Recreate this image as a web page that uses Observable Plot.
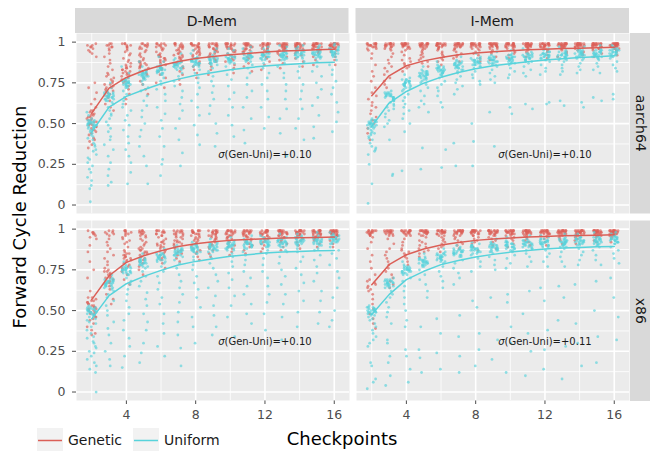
<!DOCTYPE html>
<html><head><meta charset="utf-8">
<script src="https://cdn.jsdelivr.net/npm/d3@7"></script>
<script src="https://cdn.jsdelivr.net/npm/@observablehq/plot@0.6"></script>
<style>
body{margin:0;background:#fff;font-family:"DejaVu Sans",sans-serif;}
#wrap{position:relative;width:650px;height:451px;overflow:hidden;background:#fff;}
#wrap svg{display:block;}
.lab{position:absolute;white-space:nowrap;line-height:1;}
</style></head><body><div id="wrap"></div>
<script>
// ---------- data ----------
const checkpoints = [2,3,4,5,6,7,8,9,10,11,12,13,14,15,16];
const memTypes = ["D-Mem","I-Mem"];
const archs = ["aarch64","x86"];
const strategies = ["Genetic","Uniform"];
const sigmaValues = ["+0.10","+0.10","+0.10","+0.11"]; // D-Mem/aarch64, I-Mem/aarch64, D-Mem/x86, I-Mem/x86
const yTicks = [0,0.25,0.5,0.75,1];
const yTickLabels = ["0","0.25","0.50","0.75","1"];
const xTicks = [4,8,12,16];

// per-checkpoint mean lines
const dmemAarch64GeneticMean = [0.564,0.718,0.783,0.826,0.857,0.881,0.900,0.912,0.922,0.930,0.939,0.945,0.949,0.953,0.957];
const dmemAarch64UniformMean = [0.448,0.601,0.667,0.708,0.744,0.773,0.797,0.814,0.830,0.843,0.853,0.861,0.867,0.873,0.877];
const imemAarch64GeneticMean = [0.671,0.793,0.855,0.885,0.906,0.922,0.933,0.941,0.947,0.953,0.957,0.961,0.963,0.965,0.969];
const imemAarch64UniformMean = [0.483,0.626,0.697,0.748,0.785,0.814,0.836,0.855,0.867,0.879,0.890,0.898,0.906,0.910,0.916];
const dmemX86GeneticMean = [0.567,0.714,0.796,0.837,0.867,0.894,0.910,0.922,0.931,0.937,0.941,0.945,0.947,0.949,0.951];
const dmemX86UniformMean = [0.449,0.592,0.665,0.710,0.747,0.780,0.802,0.818,0.833,0.843,0.853,0.859,0.863,0.867,0.869];
const imemX86GeneticMean = [0.659,0.782,0.843,0.878,0.902,0.918,0.931,0.939,0.945,0.951,0.955,0.959,0.961,0.963,0.965];
const imemX86UniformMean = [0.476,0.598,0.690,0.741,0.782,0.808,0.829,0.845,0.859,0.869,0.878,0.884,0.888,0.892,0.894];

// individual observations in hundredths ("v*n" = n observations at v), one string per checkpoint
const dmemAarch64Genetic = [
"99 98*2 97*2 96 95 94 93 91 75 72 69 65 62 60 58*2 57 56*2 55*2 54*2 53*2 52*2 51*2 50*2 49*2 48*2 47 46*2 45 44 43 41 40 39 37 35",
"99*2 98*2 97*2 96 95 93 91 89 87 85 83 81 80 79 78 77 76 75 74*2 73 72*2 71 70*2 69 68 67 66 64 62 60 58",
"99*3 98*2 97*2 96 95 94 93 92 90 89 88 87 86 85*2 84*2 83*2 82*2 81*2 80*2 79 78 77 76 75 73 71 68 65 62",
"99*3 98*3 97*2 96*2 95 94 93 92 91 90 89 88*2 87*2 86*2 85*2 84*2 83 82 81 80 78 76 74 71 68",
"99*4 98*3 97*2 96*2 95 94 93 92*2 91*2 90*2 89*2 88*2 87 86 85 84 83 82 80 78 75 72",
"99*4 98*3 97*3 96*2 95*2 94 93*2 92*2 91*2 90*2 89 88 87 86 85 84 82 80 77 74",
"99*5 98*4 97*3 96*2 95*2 94*2 93*2 92*2 91 90 89 88 87 86 85 83 81 78",
"99*5 98*4 97*3 96*3 95*2 94*2 93*2 92 91 90 89 88 87 85 83 80",
"99*6 98*4 97*3 96*3 95*2 94*2 93 92 91 90 89 88 86 84 81",
"99*6 98*5 97*3 96*3 95*2 94*2 93 92 91 90 89 87 85 82",
"99*7 98*5 97*3 96*3 95*2 94 93 92 91 90 88 86 83",
"99*7 98*5 97*4 96*3 95*2 94 93 92 91 89 87 84",
"99*8 98*5 97*4 96*3 95 94 93 92 90 88 85",
"99*8 98*5 97*4 96*3 95*2 94 93 91 89 86",
"99*8 98*6 97*4 96*3 95 94 93 91 89 86"];
const dmemAarch64Uniform = [
"53 52*3 51*4 50*5 49*4 48*3 47*2 46 45 44 43 42 41 40 38 37 36 34 33 31 29 28 26 24 22 20 17 15 12 10 02 55 57",
"70 69*3 68*4 67*5 66*4 65*3 64*2 75 72 63 62 60 58 56 55 53 51 49 47 45 42 40 37 34 30 26 22 18 14 12",
"78 77*3 76*4 75*5 74*4 73*3 72*2 85 81 70 68 66 64 62 60 58 55 52 49 46 42 38 34 30 26 20 13",
"83 82*3 81*4 80*5 79*4 78*3 77*2 88 85 76 74 72 70 67 64 61 58 54 50 46 42 36 30 24 13",
"86 85*3 84*4 83*5 82*4 81*3 80*2 91 88 78 76 74 71 68 64 60 56 52 47 42 36 28 25 18",
"89 88*3 87*4 86*5 85*4 84*3 83*2 93 90 81 79 76 73 70 66 62 58 53 47 40 32 24",
"91 90*3 89*4 88*5 87*4 86*3 85*2 95 93 83 81 78 75 72 68 64 60 55 49 43 37",
"92 91*3 90*4 89*5 88*4 87*3 86*2 96 94 84 82 79 76 73 69 65 61 56 50 44 36",
"93 92*3 91*4 90*5 89*4 88*3 87*2 96 95 85 83 80 77 73 69 65 60 55 49 42",
"94 93*3 92*4 91*5 90*4 89*3 88*2 97 96 86 84 81 78 74 70 66 60 53 46 38",
"95 94*3 93*4 92*5 91*4 90*3 89*2 97 96 87 84 81 78 74 70 65 60 54 47",
"95 94*3 93*4 92*5 91*4 90*3 89*2 98 97 87 85 81 78 74 70 65 59 53 44 30",
"96 95*3 94*4 93*5 92*4 91*3 90*2 98 97 88 85 82 78 74 70 65 59 53 47 40",
"96 95*3 94*4 93*5 92*4 91*3 90*2 98 97 88 85 82 79 75 71 66 61 55 48 41",
"97 96*3 95*4 94*5 93*4 92*3 91*2 99 98 89 86 83 80 76 72 68 63 57 51 45"];
const imemAarch64Genetic = [
"99*6 98*5 97*3 96*2 95 93 90 86 82 79 76 72 69 67 65 63 61 60 58 56 54 52 50 47 44 40",
"99*7 98*5 97*3 96*2 95 93 91 89 87 85 84 82 80 78 76 74 72",
"99*8 98*5 97*3 96*2 95 94 92 90 89 88 87 86 85 84 82",
"99*8 98*6 97*3 96*2 95 94 93 92 91 90 89 88 87 85",
"99*8 98*6 97*3 96*2 95 94 93 92 91 90 89 88 86",
"99*9 98*6 97*3 96*2 95 94 93 92 91 90 88",
"99*9 98*6 97*3 96*2 95 94 93 92 90 88",
"99*9 98*6 97*4 96*2 95 94 93 91 89",
"99*9 98*6 97*4 96*2 95 94 93 92 90",
"99*9 98*7 97*4 96*2 95 94 93 91",
"99*9 98*7 97*4 96*2 95 94 92 90",
"99*10 98*7 97*4 96*2 95 94 93 91",
"99*10 98*7 97*4 96*2 95 94 93 92",
"99*10 98*7 97*4 96*3 95 93 91",
"99*10 98*7 97*4 96*3 95 94 92"];
const imemAarch64Uniform = [
"53 52*3 51*4 50*5 49*4 48*3 47*2 46 45 44*2 43 42 41 40 38 36 35 34 33 31 25 13 01",
"70 69*3 68*4 67*5 66*4 65*3 64*2 63 62 61 60 59 58 56 54 52 50 48 40 19 18",
"78 77*3 76*4 75*5 74*4 73*3 72*2 80 71 70 68 66 64 62 60 58 56 53 50 45 21",
"83 82*3 81*4 80*5 79*4 78*3 77*2 85 76 75 74 72 70 67 64 62 60 57 35 22",
"86 85*3 84*4 83*5 82*4 81*3 80*2 88 79 78 76 74 72 70 67 63 60 34 23",
"89 88*3 87*4 86*5 85*4 84*3 83*2 91 82 81 79 77 75 73 71 68 38 24",
"91 90*3 89*4 88*5 87*4 86*3 85*2 93 84 82 80 78 76 74 50 39 24",
"92 91*3 90*4 89*5 88*4 87*3 86*2 94 85 83 81 79 77 75 57 36",
"93 92*3 91*4 90*5 89*4 88*3 87*2 95 86 84 82 80 78 60 56",
"94 93*3 92*4 91*5 90*4 89*3 88*2 96 87 85 83 81 79 62 59",
"95 94*3 93*4 92*5 91*4 90*3 89*2 96 88 86 84 82 80 63 62",
"95 94*3 93*4 92*5 91*4 90*3 89*2 97 88 86 84 82 80 64 61",
"96 95*3 94*4 93*5 92*4 91*3 90*2 97 89 87 85 83 81 63 60",
"96 95*3 94*4 93*5 92*4 91*3 90*2 98 89 87 85 83 81 66 64",
"97 96*3 95*4 94*5 93*4 92*3 91*2 98 90 88 86 84 82 68 65"];
const dmemX86Genetic = [
"99 98*2 97*2 96 95 94 90 86 80 75 70 62 58*2 57 56*2 55*2 54*2 53*2 52*2 51*2 50*2 49*2 48*2 47 46*2 45 44 42 40 38 36 35",
"99*2 98*2 97*2 96 94 92 90 88 86 84 82 80 78 76 75 74*2 73 72*2 71 70*2 69 68 67 65 63 60 57 54",
"99*3 98*2 97*2 96 95 94 93 92 91 89 87 86 85*2 84*2 83*2 82*2 81*2 80 79 78 77 76 74 72 69 66",
"99*3 98*3 97*2 96*2 95 94 93 92 91 90 89 88*2 87*2 86*2 85*2 84 83 82 81 80 79 77 75 72",
"99*4 98*3 97*2 96*2 95 94 93 92*2 91*2 90*2 89*2 88 87 86 85 84 83 82 81 79 76",
"99*4 98*3 97*3 96*2 95*2 94 93*2 92*2 91*2 90 89 88 87 86 85 84 82 80",
"99*5 98*4 97*3 96*2 95*2 94*2 93*2 92 91 90 89 88 87 86 85 83 81",
"99*5 98*4 97*3 96*3 95*2 94*2 93 92 91 90 89 88 87 85 83",
"99*6 98*4 97*3 96*3 95*2 94*2 93 92 91 90 89 88 86 84",
"99*6 98*5 97*3 96*3 95*2 94 93 92 91 90 89 87 85",
"99*7 98*5 97*3 96*3 95*2 94 93 92 91 90 88 86",
"99*7 98*5 97*4 96*3 95*2 94 93 92 91 89 87",
"99*8 98*5 97*4 96*3 95 94 93 92 90 88",
"99*8 98*5 97*4 96*3 95*2 94 93 91 89",
"99*8 98*6 97*4 96*3 95 94 93 91 89"];
const dmemX86Uniform = [
"53 52*3 51*4 50*5 49*4 48*3 47*2 46 45 44 43 42 40 38 36 34 33 31 30 28 27 25 24 22 20 18 16 14 12 00",
"70 69*3 68*4 67*5 66*4 65*3 64*2 72 63 62 60 58 56 53 50 47 43 39 35 30 25 20 16",
"78 77*3 76*4 75*5 74*4 73*3 72*2 80 70 68 66 63 60 56 52 48 44 38 33 28 22 15",
"83 82*3 81*4 80*5 79*4 78*3 77*2 85 76 74 71 68 65 61 57 53 48 43 38 30 24 18",
"86 85*3 84*4 83*5 82*4 81*3 80*2 88 79 77 74 71 67 63 58 54 48 42 36 28 22",
"89 88*3 87*4 86*5 85*4 84*3 83*2 90 81 79 76 72 68 64 60 55 49 43 35 27 16",
"91 90*3 89*4 88*5 87*4 86*3 85*2 92 83 81 78 75 71 67 63 58 52 46 40 30",
"92 91*3 90*4 89*5 88*4 87*3 86*2 94 84 82 79 76 72 68 64 59 53 47 40 35",
"93 92*3 91*4 90*5 89*4 88*3 87*2 95 85 83 80 77 73 69 64 59 53 46 34",
"94 93*3 92*4 91*5 90*4 89*3 88*2 96 86 84 81 78 74 70 65 60 54 48 42",
"95 94*3 93*4 92*5 91*4 90*3 89*2 96 87 85 82 78 74 70 65 60 55 48 38",
"95 94*3 93*4 92*5 91*4 90*3 89*2 97 87 86 83 79 75 71 66 60 54 46 32",
"96 95*3 94*4 93*5 92*4 91*3 90*2 97 88 86 83 80 76 72 67 62 56 49 40",
"96 95*3 94*4 93*5 92*4 91*3 90*2 98 88 87 84 81 77 73 68 62 56 49 42",
"97 96*3 95*4 94*5 93*4 92*3 91*2 98 89 87 85 82 78 74 70 64 58 50 44 40"];
const imemX86Genetic = [
"99*6 98*5 97*3 96*2 95 92 88 84 80 76 72 69 68 67 66 65 64 63 62 60 57 54 51 48 45 42 39",
"99*7 98*5 97*3 96*2 94 91 88 86 84 82 80 78 76 74 72 70 68 66 64",
"99*8 98*5 97*3 96*2 94 92 90 88 87 86 85 84 83 82 80 78",
"99*8 98*6 97*3 96*2 95 93 92 91 90 89 88 87 86 85 83",
"99*8 98*6 97*3 96*2 95 94 93 92 91 90 89 88 86",
"99*9 98*6 97*3 96*2 95 94 93 92 91 90 88",
"99*9 98*6 97*3 96*2 95 94 93 92 91 89 87",
"99*9 98*6 97*4 96*2 95 94 93 92 90 88",
"99*9 98*6 97*4 96*2 95 94 93 91 89",
"99*9 98*7 97*4 96*2 95 94 93 92 90",
"99*9 98*7 97*4 96*2 95 94 92 90",
"99*10 98*7 97*4 96*2 95 94 93 91",
"99*10 98*7 97*4 96*2 95 94 93 91",
"99*10 98*7 97*4 96*3 95 93 92",
"99*10 98*7 97*4 96*3 95 94 92"];
const imemX86Uniform = [
"53 52*3 51*4 50*5 49*4 48*3 47*2 46 45 44 42 40 38 36 34 32 30 28 18 16 08 06 02",
"70 69*3 68*4 67*5 66*4 65*3 64*2 62 60 58 55 52 49 46 42 32 30 22 18 10 04",
"78 77*3 76*4 75*5 74*4 73*3 72*2 80 70 68 65 62 58 54 50 44 40 26 22 14 06",
"83 82*3 81*4 80*5 79*4 78*3 77*2 85 75 72 69 66 62 58 40 26 21 12",
"86 85*3 84*4 83*5 82*4 81*3 80*2 88 79 77 74 71 68 64 45 36 24 14",
"89 88*3 87*4 86*5 85*4 84*3 83*2 90 81 79 76 73 70 66 47 34 22 12",
"91 90*3 89*4 88*5 87*4 86*3 85*2 92 84 82 80 77 74 56 52 36 26 16",
"92 91*3 90*4 89*5 88*4 87*3 86*2 94 85 83 81 78 75 58 46 32 20",
"93 92*3 91*4 90*5 89*4 88*3 87*2 95 86 84 82 79 76 60 55 40 30 12",
"94 93*3 92*4 91*5 90*4 89*3 88*2 96 87 85 83 80 77 62 48 36 25 10",
"95 94*3 93*4 92*5 91*4 90*3 89*2 96 87 85 83 80 77 64 56 38 26 14",
"95 94*3 93*4 92*5 91*4 90*3 89*2 97 88 86 83 80 77 65 58 44 28 08",
"96 95*3 94*4 93*5 92*4 91*3 90*2 97 88 86 84 81 78 66 42 30 16",
"96 95*3 94*4 93*5 92*4 91*3 90*2 98 89 87 84 81 78 68 50 34 18",
"97 96*3 95*4 94*5 93*4 92*3 91*2 98 89 87 85 82 79 70 58 46 32"];

// ---------- assemble tables ----------
const RED = "#DB5F57", CYAN = "#57D3DB";
const panels = [
  {mem:"D-Mem", arch:"aarch64", gen:dmemAarch64Genetic, uni:dmemAarch64Uniform, gm:dmemAarch64GeneticMean, um:dmemAarch64UniformMean, sigma:sigmaValues[0]},
  {mem:"I-Mem", arch:"aarch64", gen:imemAarch64Genetic, uni:imemAarch64Uniform, gm:imemAarch64GeneticMean, um:imemAarch64UniformMean, sigma:sigmaValues[1]},
  {mem:"D-Mem", arch:"x86", gen:dmemX86Genetic, uni:dmemX86Uniform, gm:dmemX86GeneticMean, um:dmemX86UniformMean, sigma:sigmaValues[2]},
  {mem:"I-Mem", arch:"x86", gen:imemX86Genetic, uni:imemX86Uniform, gm:imemX86GeneticMean, um:imemX86UniformMean, sigma:sigmaValues[3]}
];
// horizontal jitter (display only, like geom_jitter): deterministic hash
const frac = v => v - Math.floor(v);
const jitter = (j, k, s) => (frac(Math.sin((j + 1) * 12.9898 + k * 78.233 + s * 37.719) * 43758.5453) - 0.5) * 0.56;
function pointsOf(strings, p, strategy, seed) {
  const out = [];
  strings.forEach((s, k) => {
    let j = 0;
    s.trim().split(/\s+/).forEach(tok => {
      const [v, n] = tok.split("*");
      const count = n ? +n : 1;
      for (let c = 0; c < count; c++) {
        out.push({mem:p.mem, arch:p.arch, strategy, checkpoint:checkpoints[k], value:+v/100, jit:jitter(j++, k, seed)});
      }
    });
  });
  return out;
}
const genPts = panels.flatMap((p, i) => pointsOf(p.gen, p, "Genetic", i));
const uniPts = panels.flatMap((p, i) => pointsOf(p.uni, p, "Uniform", i + 10));
const genMean = panels.flatMap(p => p.gm.map((v,k) => ({mem:p.mem, arch:p.arch, checkpoint:checkpoints[k], value:v})));
const uniMean = panels.flatMap(p => p.um.map((v,k) => ({mem:p.mem, arch:p.arch, checkpoint:checkpoints[k], value:v})));

const W = 650, H = 426;
const mL = 75, mR = 21, mT = 33, mB = 25;
const fxPad = 0.025, fyPad = 0.0373;

const chart = Plot.plot({
  width: W, height: H,
  marginTop: mT, marginRight: mR, marginBottom: mB, marginLeft: mL,
  style: {fontFamily: "DejaVu Sans", fontSize: "12.5px", color: "#4D4D4D", background: "white"},
  fx: {domain: memTypes, axis: null, paddingInner: fxPad, paddingOuter: 0},
  fy: {domain: archs, axis: null, paddingInner: fyPad, paddingOuter: 0},
  x: {domain: [1.12, 16.88], ticks: xTicks, tickSize: 4, tickPadding: 6, label: null},
  y: {domain: [-0.052, 1.053], ticks: yTicks, tickFormat: d => yTickLabels[yTicks.indexOf(d)], tickSize: 4, tickPadding: 7, label: null},
  marks: [
    Plot.frame({fill: "#EBEBEB"}),
    Plot.ruleX([2,6,10,14], {stroke: "white", strokeWidth: 0.8}),
    Plot.ruleY([0.125,0.375,0.625,0.875], {stroke: "white", strokeWidth: 0.8}),
    Plot.ruleX(xTicks, {stroke: "white", strokeWidth: 1.6}),
    Plot.ruleY(yTicks, {stroke: "white", strokeWidth: 1.6}),
    Plot.dot(genPts, {x: d => d.checkpoint + d.jit, y: "value", fx: "mem", fy: "arch", r: 1.4, fill: RED, fillOpacity: 0.65, stroke: null}),
    Plot.dot(uniPts, {x: d => d.checkpoint + d.jit, y: "value", fx: "mem", fy: "arch", r: 1.4, fill: CYAN, fillOpacity: 0.65, stroke: null}),
    Plot.line(genMean, {x: "checkpoint", y: "value", fx: "mem", fy: "arch", stroke: RED, strokeWidth: 1.5}),
    Plot.line(uniMean, {x: "checkpoint", y: "value", fx: "mem", fy: "arch", stroke: CYAN, strokeWidth: 1.5}),
    Plot.text(panels, {fx: "mem", fy: "arch", text: () => "σ", frameAnchor: "bottom-right", textAnchor: "end", lineAnchor: "middle", dx: -125, dy: -59, fontSize: 10, fontStyle: "italic", fill: "#1A1A1A"}),
    Plot.text(panels, {fx: "mem", fy: "arch", text: d => `(Gen-Uni)=${d.sigma}`, frameAnchor: "bottom-right", textAnchor: "start", lineAnchor: "middle", dx: -125, dy: -59, fontSize: 10, fill: "#1A1A1A"})
  ]
});
const wrap = document.getElementById("wrap");
wrap.appendChild(chart);

// ---------- facet strips, axis titles ----------
const fxS = d3.scaleBand(memTypes, [mL, W - mR]).paddingInner(fxPad).paddingOuter(0);
const fyS = d3.scaleBand(archs, [mT, H - mB]).paddingInner(fyPad).paddingOuter(0);
const svg = d3.select(chart);
const g = svg.append("g").attr("font-family", "DejaVu Sans");
memTypes.forEach(m => {
  g.append("rect").attr("x", fxS(m)).attr("y", 8).attr("width", fxS.bandwidth()).attr("height", mT - 8).attr("fill", "#D9D9D9");
  g.append("text").attr("x", fxS(m) + fxS.bandwidth()/2).attr("y", 20.5).attr("text-anchor", "middle")
    .attr("dominant-baseline", "central").attr("font-size", 14).attr("fill", "#1A1A1A").text(m);
});
archs.forEach(a => {
  const x0 = W - mR + 1;
  g.append("rect").attr("x", x0).attr("y", fyS(a)).attr("width", mR).attr("height", fyS.bandwidth()).attr("fill", "#D9D9D9");
  g.append("text").attr("transform", `translate(${x0 + 10.5},${fyS(a) + fyS.bandwidth()/2}) rotate(90)`)
    .attr("text-anchor", "middle").attr("dominant-baseline", "central").attr("font-size", 14).attr("fill", "#1A1A1A").text(a);
});
g.append("text").attr("transform", `translate(19,${(mT + H - mB)/2}) rotate(-90)`)
  .attr("text-anchor", "middle").attr("dominant-baseline", "central").attr("font-size", 18).attr("fill", "#000").text("Forward Cycle Reduction");

// ---------- legend + x title below the svg ----------
const xt = document.createElement("div");
xt.className = "lab";
xt.style.cssText = "left:242px;top:430px;width:200px;text-align:center;font-size:18px;color:#000;";
xt.textContent = "Checkpoints";
wrap.appendChild(xt);
const legendColors = [RED, CYAN];
strategies.forEach((s, i) => {
  const left = [37, 133][i];
  const key = d3.create("svg").attr("width", 26).attr("height", 25)
    .style("position", "absolute").style("left", left + "px").style("top", "428px");
  key.append("rect").attr("width", 26).attr("height", 25).attr("fill", "#F2F2F2");
  key.append("line").attr("x1", 1).attr("x2", 25).attr("y1", 12.5).attr("y2", 12.5).attr("stroke", legendColors[i]).attr("stroke-width", 1.5);
  wrap.appendChild(key.node());
  const t = document.createElement("div");
  t.className = "lab";
  t.style.cssText = `left:${left + 31}px;top:433px;font-size:14px;color:#1A1A1A;`;
  t.textContent = s;
  wrap.appendChild(t);
});
</script></body></html>
